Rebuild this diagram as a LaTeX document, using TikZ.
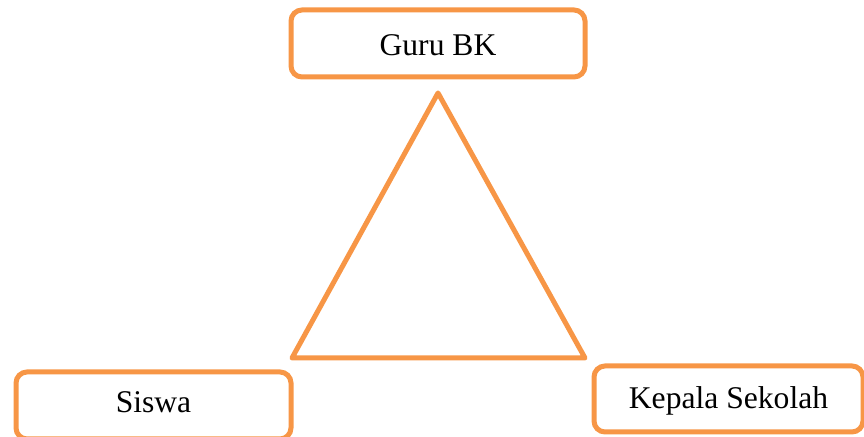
\documentclass[tikz,border=0pt]{standalone}
\usepackage{fontspec}
\setmainfont{Liberation Serif}
\definecolor{accent}{HTML}{F79646}
\begin{document}
\begin{tikzpicture}[x=0.5pt,y=-0.5pt,
  rolebox/.style={draw=accent, line width=2.5pt, rounded corners=5.5pt, inner sep=0pt,
    font=\fontsize{15.8pt}{19pt}\selectfont, text=black, fill=white}]
\useasboundingbox (0,0) rectangle (864,437);
\node[rolebox, minimum width=147pt, minimum height=33.5pt, text height=12.5pt, text depth=0pt] (guru) at (438,43.5) {Guru BK};
\node[rolebox, minimum width=137.5pt, minimum height=33.5pt, text height=10.5pt, text depth=3pt] (siswa) at (153.5,405.5) {Siswa};
\node[rolebox, minimum width=134.5pt, minimum height=33pt, text height=10.5pt, text depth=0.5pt] (kepala) at (728.5,399) {Kepala Sekolah};
\draw[accent, line width=2.5pt, line join=round] (438,93) -- (585,358) -- (292,358) -- cycle;
\end{tikzpicture}
\end{document}
